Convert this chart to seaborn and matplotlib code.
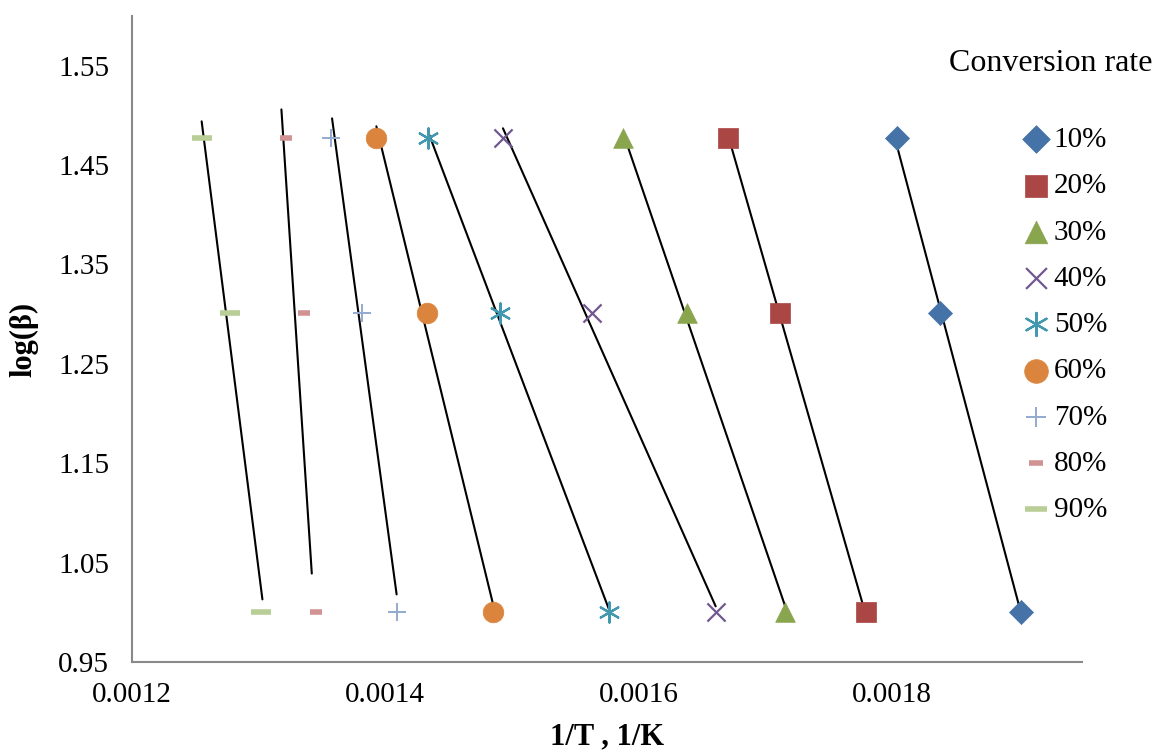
import numpy as np
import pandas as pd
import seaborn as sns
import matplotlib.pyplot as plt

# log(beta) levels (beta = 10, 20, 30 K/min)
log_beta = [1.0, 1.301, 1.477]

rates = ["10%", "20%", "30%", "40%", "50%", "60%", "70%", "80%", "90%"]

# 1/T values, same order as log_beta
inv_T = {
    "10%": [0.001902, 0.001838, 0.001804],
    "20%": [0.001780, 0.001712, 0.001671],
    "30%": [0.001716, 0.001638, 0.001588],
    "40%": [0.001661, 0.001563, 0.001493],
    "50%": [0.001577, 0.001491, 0.001434],
    "60%": [0.001485, 0.001433, 0.001393],
    "70%": [0.001409, 0.001382, 0.001357],
    "80%": [0.001345, 0.001336, 0.001322],
    "90%": [0.001302, 0.001277, 0.001255],
}

# trend line end points (top / bottom) as drawn on the chart
line_x_top = [0.001803, 0.001671, 0.001588, 0.001493, 0.001434, 0.001393, 0.001358, 0.001318, 0.001255]
line_y_top = [1.475, 1.479, 1.482, 1.487, 1.483, 1.489, 1.497, 1.506, 1.494]
line_x_bot = [0.001902, 0.001779, 0.001717, 0.001661, 0.001577, 0.001485, 0.001409, 0.001342, 0.001303]
line_y_bot = [1.000, 1.000, 1.002, 1.006, 1.002, 1.009, 1.018, 1.039, 1.013]

colors = ["#4572A7", "#AA4643", "#89A54E", "#71588F", "#4198AF",
          "#DB843D", "#93A9CF", "#D19392", "#B9CD96"]
# marker, size (pt^2), line width
styles = [("D", 150, 0.5), ("s", 190, 0.5), ("^", 200, 0.5), ("x", 170, 1.6),
          ("asterisk", 210, 1.6), ("o", 220, 0.5), ("+", 170, 1.4),
          ("_", 70, 4.0), ("_", 200, 4.0)]

rows = []
for r in rates:
    for xv, yv in zip(inv_T[r], log_beta):
        rows.append({"x": xv, "y": yv, "rate": r})
df = pd.DataFrame(rows)

sns.set_theme(style="white")
plt.rcParams["font.family"] = ["Liberation Serif", "DejaVu Serif"]
plt.rcParams["text.color"] = "black"
plt.rcParams["axes.labelcolor"] = "black"

fig = plt.figure(figsize=(11.58, 7.52), dpi=100)
ax = fig.add_axes([0.114, 0.1197, 0.82, 0.859])

# trend lines first, under the markers
for i in range(len(rates)):
    seg = pd.DataFrame({"x": [line_x_top[i], line_x_bot[i]],
                        "y": [line_y_top[i], line_y_bot[i]]})
    sns.lineplot(data=seg, x="x", y="y", color="black", linewidth=1.5,
                 sort=False, estimator=None, ax=ax, zorder=2)

for i, r in enumerate(rates):
    m, s, lw = styles[i]
    if m == "asterisk":
        m = (6, 2, 0)
    sub = df[df["rate"] == r]
    if m in ("x", "+", "_") or isinstance(m, tuple):
        sns.scatterplot(data=sub, x="x", y="y", marker=m, s=s, color=colors[i],
                        linewidth=lw, ax=ax, label=r, zorder=3)
    else:
        sns.scatterplot(data=sub, x="x", y="y", marker=m, s=s, color=colors[i],
                        edgecolor=colors[i], linewidth=lw, ax=ax, label=r, zorder=3)

ax.set_xlim(0.0012, 0.00195)
ax.set_ylim(0.95, 1.6)
ax.set_xticks([0.0012, 0.0014, 0.0016, 0.0018])
ax.set_xticklabels(["0.0012", "0.0014", "0.0016", "0.0018"])
ax.set_yticks([0.95, 1.05, 1.15, 1.25, 1.35, 1.45, 1.55])
ax.set_yticklabels(["0.95", "1.05", "1.15", "1.25", "1.35", "1.45", "1.55"])

for side in ["top", "right"]:
    ax.spines[side].set_visible(False)
for side in ["left", "bottom"]:
    ax.spines[side].set_color("#898989")
    ax.spines[side].set_linewidth(1.5)

ax.tick_params(axis="both", direction="inout", length=13, width=1.5,
               color="#898989", labelsize=21, labelcolor="black")
ax.tick_params(axis="y", pad=10)
ax.tick_params(axis="x", pad=8)

ax.set_xlabel("1/T , 1/K", fontsize=22, fontweight="bold", labelpad=10)
ax.set_ylabel("log(β)", fontsize=22, fontweight="bold", labelpad=14)

leg = ax.legend(loc="upper left", bbox_to_anchor=(0.8748, 0.847),
                bbox_transform=fig.transFigure, frameon=False, fontsize=21,
                handlelength=0.8, handletextpad=0.2, labelspacing=0.68,
                borderaxespad=0, markerscale=1.15)
fig.text(0.907, 0.916, "Conversion rate", fontsize=23, ha="center", va="center")

fig.savefig("out.png", dpi=100)
